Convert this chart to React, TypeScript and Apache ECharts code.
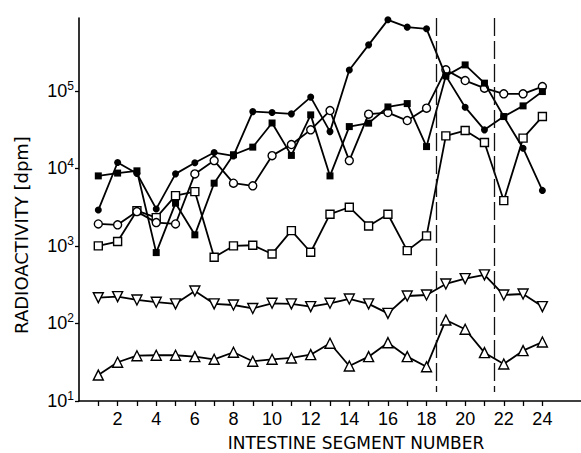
import React, { useEffect, useRef } from "react";
import * as echarts from "echarts";

const segments = Array.from({ length: 24 }, (_, i) => i + 1);
const xLabelValues = [2, 4, 6, 8, 10, 12, 14, 16, 18, 20, 22, 24];
const yLabelValues = [10, 100, 1000, 10000, 100000];
const dividers = [18.5, 21.5];

const filledCircle = [2900, 11900, 8600, 3000, 8500, 11800, 16000, 14500, 54000, 52500, 50500, 83000, 29800, 186000, 392000, 824000, 663000, 631000, 156000, 61600, 31400, 46600, 18200, 5200];
const filledSquare = [8000, 8700, 9300, 820, 3560, 1390, 6440, 15000, 18800, 38500, 14700, 49000, 8000, 34600, 38300, 62000, 68500, 19100, 156000, 216000, 125700, 46600, 64000, 97900];
const openCircle = [1920, 1870, 2770, 2000, 1920, 8490, 12600, 6440, 5950, 14600, 20300, 31400, 55700, 12600, 50000, 52500, 41400, 59800, 186600, 135800, 108300, 91500, 91500, 113600];
const openSquare = [1000, 1140, 2850, 2320, 4460, 5020, 715, 1000, 1020, 788, 1575, 829, 2565, 3156, 1811, 2565, 869, 1346, 26250, 30760, 21530, 3843, 24540, 46590];
const downTriangle = [215, 222, 201, 188, 179, 262, 179, 173, 156, 182, 179, 165, 182, 207, 179, 135, 226, 233, 323, 379, 423, 233, 240, 165];
const upTriangle = [21.6, 31.6, 38.4, 38.9, 38.9, 37.3, 34.5, 42.5, 32.5, 34.5, 35.9, 39.6, 55.5, 28.3, 37.3, 56.5, 37.3, 27.7, 111, 84.2, 42, 30, 44.6, 57.7];

const Y_MIN = 10;
const Y_MAX = 870000;
const Y_DIVIDER_BOTTOM = 13.1;

const pairs = (vals: number[]) => segments.map((s, i) => [s, vals[i]]);

export default function App() {
  const ref = useRef<HTMLDivElement>(null);
  useEffect(() => {
    if (!ref.current) return;
    const chart = echarts.init(ref.current, null, { renderer: "svg" });
    const tickFont = "'Liberation Sans Narrow', 'Liberation Sans', sans-serif";
    const titleFont = "'DejaVu Sans', sans-serif";
    const mkSeries = (name: string, vals: number[], symbol: string, size: number, filled: boolean, rotate = 0) => ({
      name,
      type: "line",
      data: pairs(vals),
      symbol,
      symbolSize: size,
      symbolRotate: rotate,
      showAllSymbol: true,
      lineStyle: { color: "#000", width: 1.8 },
      itemStyle: filled
        ? { color: "#000", borderColor: "#000", borderWidth: 0 }
        : { color: "#fff", borderColor: "#000", borderWidth: 1.4 },
      emphasis: { disabled: true },
      z: filled ? 3 : 2,
    });
    const series: any[] = [
      mkSeries("down", downTriangle, "triangle", 10, false, 180),
      mkSeries("up", upTriangle, "triangle", 10, false),
      mkSeries("openSquare", openSquare, "rect", 8, false),
      mkSeries("openCircle", openCircle, "circle", 8, false),
      mkSeries("filledSquare", filledSquare, "rect", 7, true),
      mkSeries("filledCircle", filledCircle, "circle", 7, true),
    ];
    series[0].markLine = {
      silent: true,
      symbol: ["none", "none"],
      label: { show: false },
      lineStyle: { color: "#111", width: 1.3, type: [18, 5] },
      data: dividers.map((d) => [{ coord: [d, Y_MAX] }, { coord: [d, Y_DIVIDER_BOTTOM] }]),
    };
    chart.setOption({
      animation: false,
      grid: { left: 79, right: 0, top: 18, bottom: 52 },
      xAxis: {
        type: "value",
        min: 0,
        max: 26,
        interval: 1,
        splitLine: { show: false },
        axisLine: { lineStyle: { color: "#000", width: 1.6 } },
        axisTick: { show: true, length: 5, lineStyle: { color: "#000", width: 1.3 }, customValues: segments },
        axisLabel: {
          color: "#000",
          fontSize: 18,
          fontFamily: tickFont,
          margin: 9,
          customValues: xLabelValues,
        },
      },
      yAxis: {
        type: "log",
        logBase: 10,
        min: Y_MIN,
        max: Y_MAX,
        splitLine: { show: false },
        axisLine: { lineStyle: { color: "#000", width: 1.6 } },
        axisTick: { show: true, length: 4, lineStyle: { color: "#000", width: 1.3 }, customValues: yLabelValues },
        axisLabel: {
          margin: 5,
          customValues: yLabelValues,
          formatter: (v: number) => `{b|10}{s|${Math.round(Math.log10(v))}}`,
          rich: {
            b: { fontSize: 18, fontFamily: tickFont, color: "#000" },
            s: { fontSize: 12, fontFamily: tickFont, color: "#000", padding: [0, 0, 10, 0] },
          },
        },
      },
      graphic: [
        {
          type: "text",
          x: 21,
          y: 235,
          rotation: Math.PI / 2,
          style: {
            text: "RADIOACTIVITY [dpm]",
            fontSize: 18,
            fontFamily: titleFont,
            fill: "#000",
            textAlign: "center",
            textVerticalAlign: "middle",
          },
        },
        {
          type: "text",
          x: 356,
          y: 443,
          style: {
            text: "INTESTINE SEGMENT NUMBER",
            fontSize: 17,
            fontFamily: titleFont,
            fill: "#000",
            textAlign: "center",
            textVerticalAlign: "middle",
          },
        },
      ],
      series,
    });
    return () => chart.dispose();
  }, []);
  return <div ref={ref} style={{ position: "fixed", left: 0, top: 0, width: 581, height: 453, background: "#fff" }} />;
}
